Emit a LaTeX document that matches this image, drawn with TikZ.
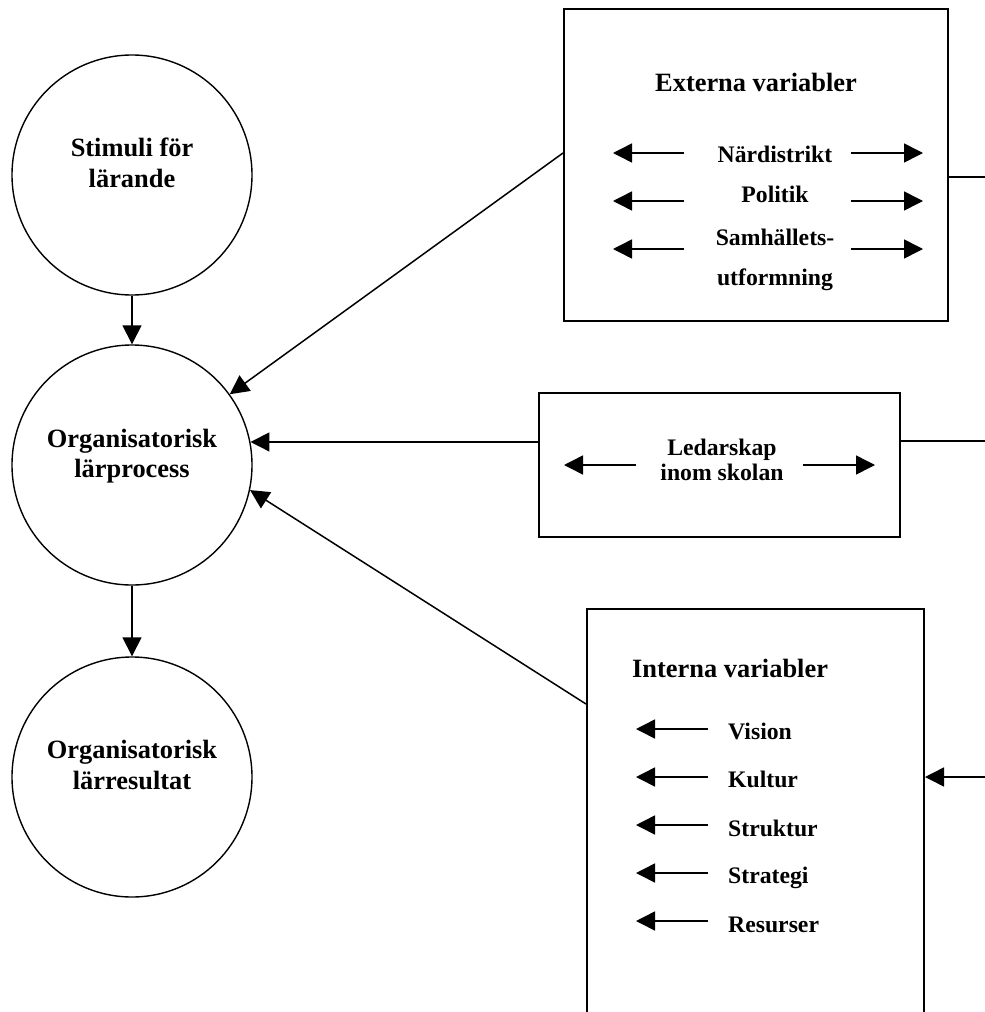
\documentclass[tikz,border=0pt]{standalone}
\usepackage{fontspec}
\setmainfont{Liberation Serif}
\usetikzlibrary{arrows.meta}
\begin{document}
\begin{tikzpicture}[x=1pt,y=-1pt,
  circ/.style={draw, circle, minimum size=240pt, inner sep=0pt, line width=1.4pt},
  box/.style={draw, rectangle, inner sep=0pt, line width=2pt},
  big/.style={font=\fontsize{26.4}{31}\selectfont\bfseries, inner sep=0pt, anchor=base},
  small/.style={font=\fontsize{23.7}{28}\selectfont\bfseries, inner sep=0pt, anchor=base},
  smallw/.style={small, anchor=base west},
  bigw/.style={big, anchor=base west},
  conn/.style={line width=1.5pt},
  arr/.style={line width=1.5pt, -{Triangle[length=19pt,width=19pt]}},
]
\clip (0,0) rectangle (985,1012);
\useasboundingbox (0,0) rectangle (985,1012);
\fill[white] (0,0) rectangle (985,1012);

% circles
\node[circ] (stim) at (132,175) {};
\node[circ] (org) at (132,465) {};
\node[circ] (res) at (132,777) {};
\node[big] (stimA) at (132,156) {Stimuli för};
\node[big] (stimB) at (132,187) {lärande};
\node[big] (orgA) at (132,447) {Organisatorisk};
\node[big] (orgB) at (132,477) {lärprocess};
\node[big] (resA) at (132,758) {Organisatorisk};
\node[big] (resB) at (132,789) {lärresultat};

\draw[arr] (stim) -- (org);
\draw[arr] (org) -- (res);

% boxes
\node[box, minimum width=384pt, minimum height=312pt] (ext) at (756,165) {};
\node[box, minimum width=361pt, minimum height=144pt] (led) at (719.5,465) {};
\node[box, minimum width=337pt, minimum height=460pt] (int) at (755.5,839) {};

% Externa texts
\node[big] (extT) at (756,91) {Externa variabler};
\node[small] (e1) at (775,162) {Närdistrikt};
\node[small] (e2) at (775,202) {Politik};
\node[small] (e3) at (775,245) {Samhällets-};
\node[small] (e4) at (775,285) {utformning};
\foreach \y/\n in {153/a,201/b,249/c}{
  \coordinate (el\n) at (684,\y);
  \coordinate (elt\n) at (613,\y);
  \coordinate (er\n) at (851,\y);
  \coordinate (ert\n) at (923,\y);
  \draw[arr] (el\n) -- (elt\n);
  \draw[arr] (er\n) -- (ert\n);
}

% Ledarskap texts
\node[small] (l1) at (722,455) {Ledarskap};
\node[small] (l2) at (722,480) {inom skolan};
\coordinate (lla) at (636,465);
\coordinate (llt) at (564,465);
\coordinate (lra) at (803,465);
\coordinate (lrt) at (875,465);
\draw[arr] (lla) -- (llt);
\draw[arr] (lra) -- (lrt);

% Interna texts
\node[bigw] (intT) at (632,677) {Interna variabler};
\node[smallw] (i1) at (728,739) {Vision};
\node[smallw] (i2) at (728,787) {Kultur};
\node[smallw] (i3) at (728,836) {Struktur};
\node[smallw] (i4) at (728,883) {Strategi};
\node[smallw] (i5) at (728,932) {Resurser};
\foreach \y/\n in {729/a,777/b,825/c,873/d,921/e}{
  \coordinate (il\n) at (708,\y);
  \coordinate (ilt\n) at (636,\y);
  \draw[arr] (il\n) -- (ilt\n);
}

% connectors to the process circle
\coordinate (extin) at (564,153);
\draw[arr] (extin -| ext.west) -- (org);
\draw[arr] (org.11 -| led.west) -- (org.11);
\coordinate (intin) at (587,704);
\draw[arr] (intin -| int.west) -- (org.-12);

% lines leaving to the right edge
\coordinate (extout) at (985,177);
\draw[conn] (extout -| ext.east) -- (extout);
\coordinate (ledout) at (985,441);
\draw[conn] (ledout -| led.east) -- (ledout);
\coordinate (intout) at (985,777);
\draw[arr] (intout) -- (intout -| int.east);
\end{tikzpicture}
\end{document}
